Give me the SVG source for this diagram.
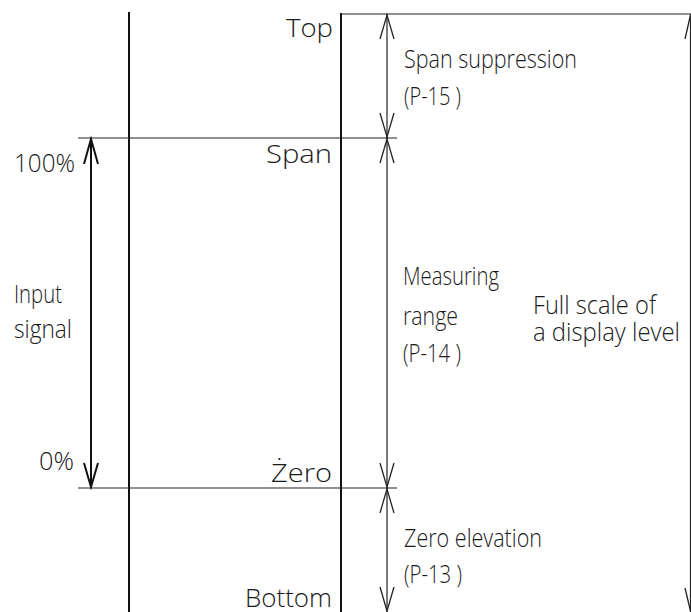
<svg xmlns="http://www.w3.org/2000/svg" width="691" height="612" viewBox="0 0 691 612">
<style>
.thick{stroke:#111;stroke-width:2;fill:none}
.thin{stroke:#222;stroke-width:1.2;fill:none}
.head{stroke:#222;stroke-width:1.3;fill:none;stroke-linejoin:miter}
.headb{stroke:#111;stroke-width:2;fill:none}
text{font-family:"Open Sans","DejaVu Sans","Liberation Sans",sans-serif;font-size:26px;font-weight:300;fill:#1a1a1a}
</style>
<rect width="691" height="612" fill="#fff"/>
<g id="frame">
<line class="thick" x1="129" y1="12" x2="129" y2="612"/>
<line class="thick" x1="341" y1="13" x2="341" y2="612"/>
<line class="thin" x1="341" y1="14" x2="691" y2="14"/>
<line class="thin" x1="78" y1="138" x2="397" y2="138"/>
<line class="thin" x1="78" y1="488" x2="397" y2="488"/>
</g>
<g id="connectors">
<g id="input-arrow">
<line class="thick" x1="91" y1="139" x2="91" y2="487"/>
<polyline class="headb" points="84,164 91,139 98,164"/>
<polyline class="headb" points="84,463 91,487 98,463"/>
</g>
<g id="dim-arrow">
<line class="thin" x1="387" y1="14" x2="387" y2="612"/>
<polyline class="head" points="380,39 387,15 394,39"/>
<polyline class="head" points="380,113 387,137 394,113"/>
<polyline class="head" points="380,163 387,139 394,163"/>
<polyline class="head" points="380,463 387,487 394,463"/>
<polyline class="head" points="380,513 387,489 394,513"/>
<polyline class="head" points="380,587 387,611 394,587"/>
</g>
<g id="full-scale-arrow">
<line class="thin" x1="690.5" y1="14" x2="690.5" y2="612"/>
<line class="head" x1="685" y1="39" x2="690.5" y2="15"/>
<line class="head" x1="685" y1="588" x2="690.5" y2="611"/>
</g>
</g>
<g id="labels-left">
<text x="14" y="172" textLength="61" lengthAdjust="spacingAndGlyphs">100%</text>
<text x="14" y="303" textLength="48" lengthAdjust="spacingAndGlyphs">Input</text>
<text x="14" y="338" textLength="58" lengthAdjust="spacingAndGlyphs">signal</text>
<text x="39" y="470" textLength="35" lengthAdjust="spacingAndGlyphs">0%</text>
</g>
<g id="labels-levels">
<text x="286" y="37" textLength="47" lengthAdjust="spacingAndGlyphs">Top</text>
<text x="266" y="163" textLength="66" lengthAdjust="spacingAndGlyphs">Span</text>
<text x="271" y="482" textLength="61" lengthAdjust="spacingAndGlyphs">Żero</text>
<text x="245" y="607" textLength="87" lengthAdjust="spacingAndGlyphs">Bottom</text>
</g>
<g id="labels-right">
<text x="404" y="68" textLength="173" lengthAdjust="spacingAndGlyphs">Span suppression</text>
<text x="404" y="105" textLength="57" lengthAdjust="spacingAndGlyphs">(P-15 )</text>
<text x="403" y="285" textLength="96" lengthAdjust="spacingAndGlyphs">Measuring</text>
<text x="403" y="325" textLength="55" lengthAdjust="spacingAndGlyphs">range</text>
<text x="403" y="362" textLength="58" lengthAdjust="spacingAndGlyphs">(P-14 )</text>
<text x="533" y="314" textLength="123" lengthAdjust="spacingAndGlyphs">Full scale of</text>
<text x="533" y="341" textLength="147" lengthAdjust="spacingAndGlyphs">a display level</text>
<text x="404" y="547" textLength="138" lengthAdjust="spacingAndGlyphs">Zero elevation</text>
<text x="404" y="583" textLength="58" lengthAdjust="spacingAndGlyphs">(P-13 )</text>
</g>
</svg>
